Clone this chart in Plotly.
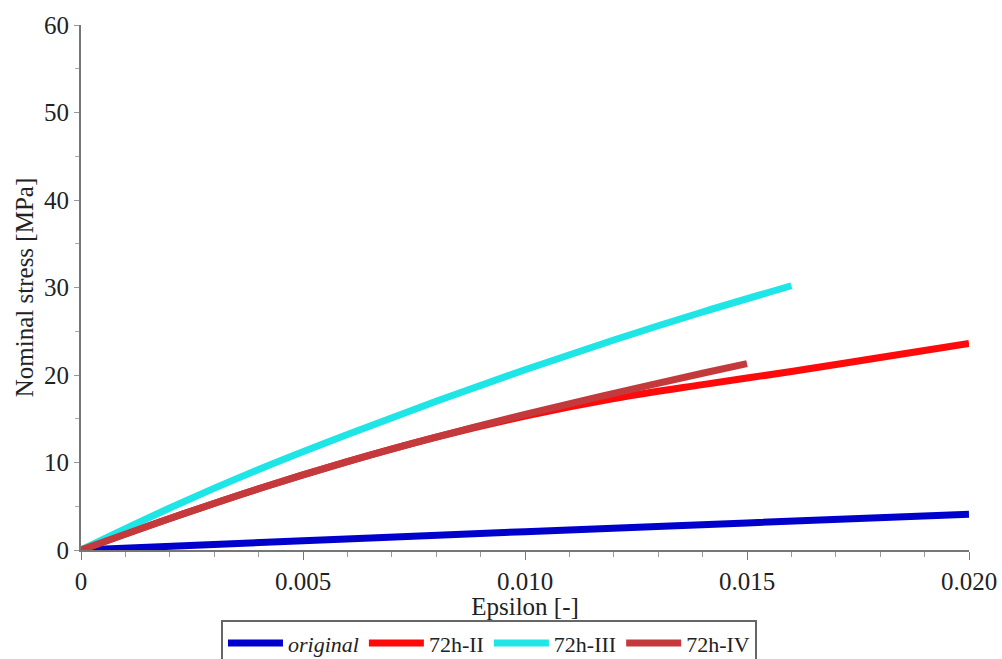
import plotly.graph_objects as go

eps_orig = [0.0, 0.005, 0.010, 0.015, 0.020]
sig_orig = [0.0, 1.05, 2.1, 3.1, 4.1]

eps_ii = [0.0, 0.002, 0.004, 0.006, 0.008, 0.010, 0.012, 0.014, 0.016, 0.018, 0.020]
sig_ii = [0.0, 3.6, 7.0, 10.1, 12.9, 15.3, 17.3, 18.9, 20.4, 22.0, 23.6]

eps_iii = [0.0, 0.002, 0.004, 0.006, 0.008, 0.010, 0.012, 0.014, 0.016]
sig_iii = [0.0, 4.8, 9.2, 13.2, 17.0, 20.6, 24.0, 27.2, 30.2]

eps_iv = [0.0, 0.002, 0.004, 0.006, 0.008, 0.010, 0.012, 0.014, 0.015]
sig_iv = [0.0, 3.6, 7.0, 10.1, 12.9, 15.5, 17.9, 20.2, 21.3]

x_tickvals = [0, 0.005, 0.010, 0.015, 0.020]
x_ticktext = ["0", "0.005", "0.010", "0.015", "0.020"]
y_tickvals = [0, 10, 20, 30, 40, 50, 60]

series = [
    ("<i>original</i>", eps_orig, sig_orig, "#0000cd"),
    ("72h-II", eps_ii, sig_ii, "#ff0a0a"),
    ("72h-III", eps_iii, sig_iii, "#1ee6e6"),
    ("72h-IV", eps_iv, sig_iv, "#c43a3c"),
]

fam = "Liberation Serif"
tickfont = dict(family=fam, size=25, color="#222222")
titlefont = dict(family=fam, size=25, color="#222222")
legfont = dict(family=fam, size=22, color="#222222")

fig = go.Figure()
for name, x, y, c in series:
    fig.add_trace(go.Scatter(x=x, y=y, mode="lines", name=name,
                             line=dict(color=c, width=7, shape="spline")))

fig.update_layout(
    width=1002, height=659,
    margin=dict(l=81, r=33, t=25, b=109, autoexpand=False),
    paper_bgcolor="white", plot_bgcolor="white",
    font=dict(family=fam, size=24, color="#222222"),
    showlegend=True,
    legend=dict(orientation="h", xref="container", x=0.488, xanchor="center",
                yref="container", y=0.059, yanchor="top",
                bordercolor="#666666", borderwidth=2, font=legfont,
                itemwidth=55, tracegroupgap=0),
    xaxis=dict(range=[0, 0.020], tickvals=x_tickvals, ticktext=x_ticktext, tickfont=tickfont,
               automargin=False,
               showgrid=False, zeroline=False, showline=True, linecolor="#777777", linewidth=2,
               ticks="outside", ticklen=8, tickcolor="#777777",
               minor=dict(dtick=0.001, ticks="outside", ticklen=5, tickcolor="#999999"),
               title=dict(text="Epsilon [-]", font=titlefont, standoff=2)),
    yaxis=dict(range=[0, 60], tickvals=y_tickvals, tickfont=tickfont,
               automargin=False,
               showgrid=False, zeroline=False, showline=True, linecolor="#777777", linewidth=2,
               ticks="outside", ticklen=5, tickcolor="#999999",
               minor=dict(dtick=5, ticks="outside", ticklen=4, tickcolor="#aaaaaa"),
               title=dict(text="Nominal stress [MPa]", font=titlefont, standoff=3)),
)

fig.write_html("out.html", config={"displayModeBar": False},
               post_script="document.body.style.margin='0';document.body.style.overflow='hidden';")
